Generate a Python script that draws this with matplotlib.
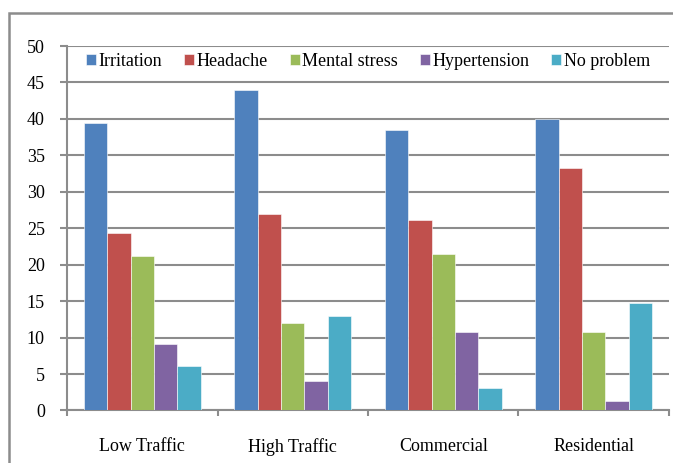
import numpy as np
import matplotlib
matplotlib.use("Agg")
import matplotlib.pyplot as plt
from matplotlib.patches import Rectangle

categories = ["Low Traffic", "High Traffic", "Commercial", "Residential"]
series = ["Irritation", "Headache", "Mental stress", "Hypertension", "No problem"]
irritation = [39.4, 44.0, 38.5, 40.0]
headache = [24.3, 27.0, 26.2, 33.3]
mental_stress = [21.2, 12.0, 21.5, 10.7]
hypertension = [9.1, 4.0, 10.8, 1.3]
no_problem = [6.1, 13.0, 3.1, 14.7]
colors = ["#4F81BD", "#C0504D", "#9BBB59", "#8064A2", "#4BACC6"]

plt.rcParams["font.family"] = ["Liberation Serif", "DejaVu Serif"]
fig = plt.figure(figsize=(6.73, 4.63), dpi=100)
ax = fig.add_axes([0.0996, 0.1134, 0.8944, 0.7872])

# outer frame, clipped at right and bottom like the source
fig.patches.append(Rectangle((9 / 673, -0.05), 1.5, 1 - 13 / 463 + 0.05,
                             transform=fig.transFigure, fill=False,
                             edgecolor="#8c8c8c", linewidth=1.8))

x = np.arange(len(categories))
w = 0.156
values = [irritation, headache, mental_stress, hypertension, no_problem]
for i, (name, vals) in enumerate(zip(series, values)):
    ax.bar(x + (i - 2) * w, vals, w, color=colors[i], label=name,
           edgecolor="white", linewidth=0.4, zorder=3)

ax.set_xlim(-0.5, 3.5)
ax.set_ylim(0, 50)
ax.set_yticks(np.arange(0, 51, 5))
ax.yaxis.grid(True, color="#8c8c8c", linewidth=1.5, zorder=0)
ax.set_axisbelow(True)

ax.set_xticks(np.arange(-0.5, 4, 1))
ax.set_xticklabels([])
ax.set_xticks(x, minor=True)
ax.set_xticklabels(categories, minor=True)
ax.tick_params(axis="x", which="major", length=4, width=1.5, color="#8c8c8c")
ax.tick_params(axis="x", which="minor", length=0, pad=20, labelsize=13)
ax.tick_params(axis="y", length=5, width=1.5, color="#8c8c8c", pad=11, labelsize=13)

for s in ["top", "right"]:
    ax.spines[s].set_visible(False)
for s in ["left", "bottom"]:
    ax.spines[s].set_color("#8c8c8c")
    ax.spines[s].set_linewidth(1.5)

ax.legend(loc="upper center", bbox_to_anchor=(0.5, 1.0), ncols=5, frameon=False,
          fontsize=13, handlelength=0.55, handleheight=0.55, handletextpad=0.15,
          columnspacing=1.2, borderaxespad=0.0)

fig.savefig("out.png", dpi=100)
